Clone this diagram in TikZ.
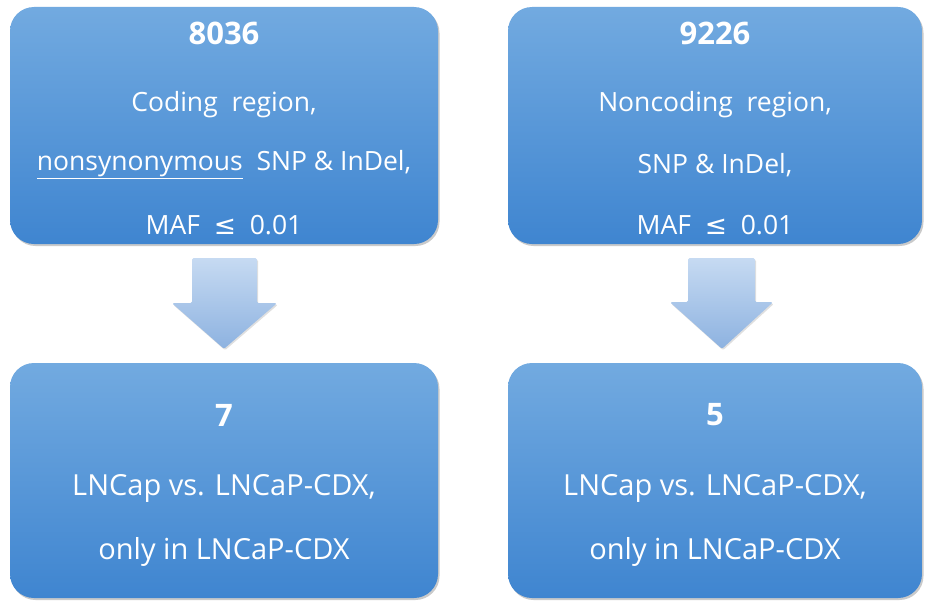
\documentclass[tikz,border=0pt]{standalone}
\usepackage{fontspec}
\setmainfont{Open Sans}
\newfontfamily\symfont{DejaVu Sans}
\usetikzlibrary{shadows,calc}
\definecolor{boxtop}{HTML}{72AAE0}
\definecolor{boxbot}{HTML}{3F85D0}
\definecolor{arrtop}{HTML}{C6DAF2}
\definecolor{arrbot}{HTML}{8DB2E0}
\tikzset{
  box/.style={rectangle, rounded corners=24pt, top color=boxtop, bottom color=boxbot,
    draw=none, drop shadow={shadow xshift=1.5pt, shadow yshift=-2pt, opacity=0.35, fill=black!60}},
  numtxt/.style={text=white, font=\fontsize{31}{34}\selectfont\bfseries, inner sep=0pt},
  toptxt/.style={text=white, font=\fontsize{26.5}{30}\selectfont, inner sep=0pt},
  bottxt/.style={text=white, font=\fontsize{29}{33}\selectfont, inner sep=0pt},
  blockarrow/.style={top color=arrtop, bottom color=arrbot, draw=none,
    drop shadow={shadow xshift=1pt, shadow yshift=-1.5pt, opacity=0.25, fill=black!50}}
}
\begin{document}
\begin{tikzpicture}[x=1pt,y=-1pt]
\useasboundingbox (0,0) rectangle (925,602);
% boxes
\node[box, minimum width=428pt, minimum height=237pt] (tl) at (224,125.5) {};
\node[box, minimum width=414pt, minimum height=237pt] (tr) at (715,125.5) {};
\node[box, minimum width=428pt, minimum height=235pt] (bl) at (224,480.5) {};
\node[box, minimum width=414pt, minimum height=235pt] (br) at (715,480.5) {};
% top-left text
\node[numtxt] (tln) at (224,33) {8036};
\node[toptxt] (tl1) at (224,105) {Coding\ \ region,};
\node[toptxt] (tl2) at (224,165) {\underline{nonsynonymous}\ \ SNP \& InDel,};
\node[toptxt] (tl3) at (224,225) {MAF\ \ {\symfont ≤}\ \ 0.01};
% top-right text
\node[numtxt] (trn) at (715,33) {9226};
\node[toptxt] (tr1) at (715,105) {Noncoding\ \ region,};
\node[toptxt] (tr2) at (715,165) {SNP \& InDel,};
\node[toptxt] (tr3) at (715,225) {MAF\ \ {\symfont ≤}\ \ 0.01};
% bottom texts
\node[numtxt] (bln) at (224,415) {7};
\node[bottxt] (bl1) at (224,488) {LNCap vs. LNCaP-CDX,};
\node[bottxt] (bl2) at (224,552) {only in LNCaP-CDX};
\node[numtxt] (brn) at (715,415) {5};
\node[bottxt] (br1) at (715,488) {LNCap vs. LNCaP-CDX,};
\node[bottxt] (br2) at (715,552) {only in LNCaP-CDX};
% block arrows
\path[blockarrow, rounded corners=1.5pt]
  ($(tl.south)+(-32,14)$) -- ($(tl.south)+(33,14)$) -- ($(tl.south)+(33,59)$) --
  ($(tl.south)+(53,59)$) -- ($(bl.north)+(0,-14)$) -- ($(tl.south)+(-52,59)$) --
  ($(tl.south)+(-32,59)$) -- cycle;
\path[blockarrow, rounded corners=1.5pt]
  ($(tr.south)+(-27,14)$) -- ($(tr.south)+(40,14)$) -- ($(tr.south)+(40,58)$) --
  ($(tr.south)+(58,58)$) -- ($(br.north)+(7,-14)$) -- ($(tr.south)+(-45,58)$) --
  ($(tr.south)+(-27,58)$) -- cycle;
\end{tikzpicture}
\end{document}
